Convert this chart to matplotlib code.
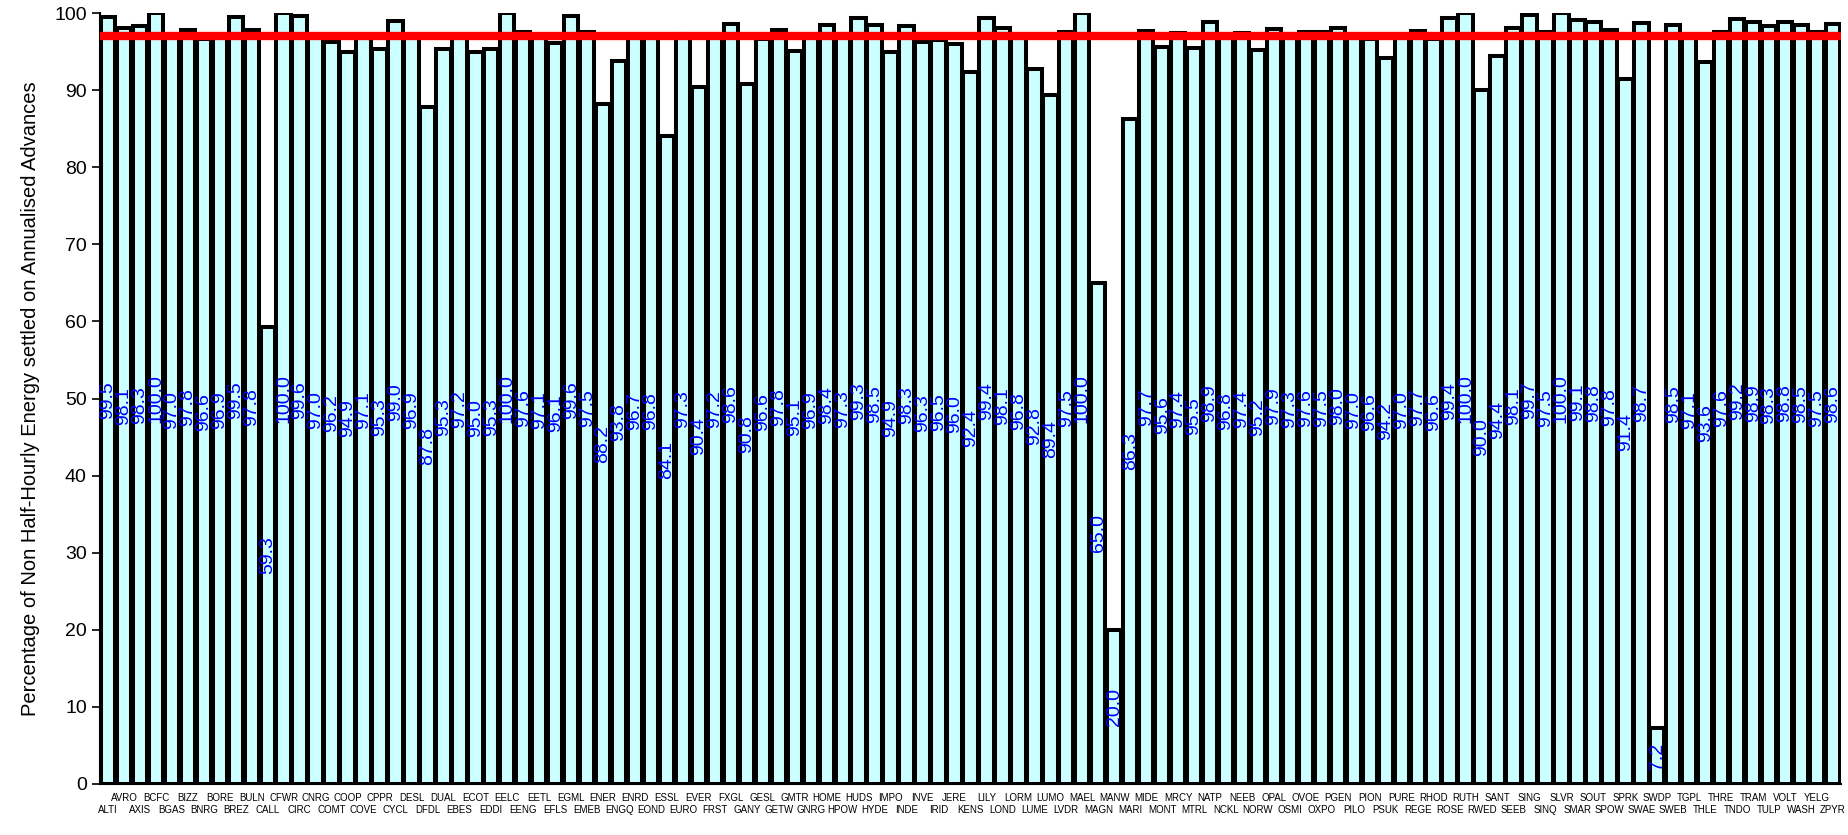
import matplotlib
matplotlib.use("Agg")
import matplotlib.pyplot as plt
import numpy as np

plt.rcParams['font.family'] = ['Liberation Sans', 'DejaVu Sans']

categories = ["ALTI","AVRO","AXIS","BCFC","BGAS","BIZZ","BNRG","BORE","BREZ","BULN",
              "CALL","CFWR","CIRC","CNRG","COMT","COOP","COVE","CPPR","CYCL","DESL",
              "DFDL","DUAL","EBES","ECOT","EDDI","EELC","EENG","EETL","EFLS","EGML",
              "EMEB","ENER","ENGQ","ENRD","EOND","ESSL","EURO","EVER","FRST","FXGL",
              "GANY","GESL","GETW","GMTR","GNRG","HOME","HPOW","HUDS","HYDE","IMPO",
              "INDE","INVE","IRID","JERE","KENS","LILY","LOND","LORM","LUME","LUMO",
              "LVDR","MAEL","MAGN","MANW","MARI","MIDE","MONT","MRCY","MTRL","NATP",
              "NCKL","NEEB","NORW","OPAL","OSMI","OVOE","OXPO","PGEN","PILO","PION",
              "PSUK","PURE","REGE","RHOD","ROSE","RUTH","RWED","SANT","SEEB","SING",
              "SINQ","SLVR","SMAR","SOUT","SPOW","SPRK","SWAE","SWDP","SWEB","TGPL",
              "THLE","THRE","TNDO","TRAM","TULP","VOLT","WASH","YELG","ZPYR"]

values = [99.5, 98.1, 98.3, 100.0, 97.0, 97.8, 96.6, 96.9, 99.5, 97.8,
          59.3, 100.0, 99.6, 97.0, 96.2, 94.9, 97.1, 95.3, 99.0, 96.9,
          87.8, 95.3, 97.2, 95.0, 95.3, 100.0, 97.6, 97.1, 96.1, 99.6,
          97.5, 88.2, 93.8, 96.7, 96.8, 84.1, 97.3, 90.4, 97.2, 98.6,
          90.8, 96.6, 97.8, 95.1, 96.9, 98.4, 97.3, 99.3, 98.5, 94.9,
          98.3, 96.3, 96.5, 96.0, 92.4, 99.4, 98.1, 96.8, 92.8, 89.4,
          97.5, 100.0, 65.0, 20.0, 86.3, 97.7, 95.6, 97.4, 95.5, 98.9,
          96.8, 97.4, 95.2, 97.9, 97.3, 97.6, 97.5, 98.0, 97.0, 96.6,
          94.2, 97.0, 97.7, 96.6, 99.4, 100.0, 90.0, 94.4, 98.1, 99.7,
          97.5, 100.0, 99.1, 98.8, 97.8, 91.4, 98.7, 7.2, 98.5, 97.1,
          93.6, 97.6, 99.2, 98.9, 98.3, 98.8, 98.5, 97.5, 98.6]

target = 97.0
yticks = list(range(0, 101, 10))
ylabel = "Percentage of Non Half-Hourly Energy settled on Annualised Advances"

fig = plt.figure(figsize=(18.48, 8.35), dpi=100)
ax = fig.add_axes([0.0541, 0.0611, 0.9421, 0.9233])

x = np.arange(len(categories))
ax.bar(x, values, width=0.9, color="#CCFFFF", edgecolor="black", linewidth=2.9, zorder=2)

for xi, v in zip(x, values):
    ax.text(xi, v / 2, f"{v:.1f}", rotation=90, ha="center", va="center",
            color="#0000FF", fontsize=14, zorder=4)

ax.axhline(target, color="#FF0000", linewidth=6, zorder=3)

ax.set_xlim(-0.5, len(categories) - 0.5)
ax.set_ylim(0, 100)
ax.set_yticks(yticks)
ax.tick_params(axis="y", labelsize=14, direction="out", length=6, width=1.2)
ax.set_xticks([])
for i, name in enumerate(categories):
    off = -10 if i % 2 == 1 else -19
    ax.annotate(name, xy=(i, 0), xycoords=("data", "axes fraction"),
                xytext=(0, off), textcoords="offset points",
                ha="center", va="center", fontsize=7)

for s in ["top", "right"]:
    ax.spines[s].set_visible(False)
ax.spines["left"].set_linewidth(1.5)
ax.spines["bottom"].set_linewidth(1.5)

ax.set_ylabel(ylabel, fontsize=14.5, labelpad=10)

fig.savefig("out.png", dpi=100)
